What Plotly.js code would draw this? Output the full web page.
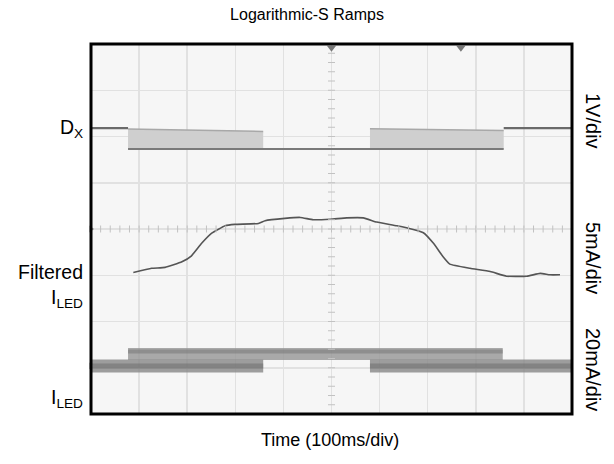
<!DOCTYPE html>
<html>
<head>
<meta charset="utf-8">
<script src="https://cdn.plot.ly/plotly-3.0.1.min.js"></script>
<style>html,body{margin:0;padding:0;background:#fff;}#chart{width:614px;height:464px;}</style>
</head>
<body>
<div id="chart"></div>
<script>
// Time axis: 0..1000 ms (100 ms/div). Vertical axis in screen divisions (0..8, bottom to top).
const timeRangeMs = [0, 1000];
const divRange = [0, 8];

// Dx (PWM dimming input, 1V/div)
const dxHighDiv = 6.18;
const dxLowDiv = 5.73;
const dxBand1Ms = [77, 358];      // first PWM burst (start, end)
const dxBand1Top = [6.16, 6.11];
const dxBand2Ms = [580, 858];     // second PWM burst
const dxBand2Top = [6.17, 6.13];

// Filtered ILED (5mA/div)
const filtT = [88, 126, 154, 189, 209, 230, 251, 279, 299, 348, 362, 403, 435, 462, 497, 532, 566, 594, 636, 670, 691, 712, 732, 746, 788, 830, 864, 906, 934, 954, 975];
const filtY = [3.06, 3.15, 3.17, 3.29, 3.42, 3.69, 3.91, 4.07, 4.10, 4.12, 4.18, 4.23, 4.25, 4.20, 4.21, 4.24, 4.24, 4.15, 4.07, 3.99, 3.92, 3.69, 3.40, 3.24, 3.15, 3.08, 2.98, 2.98, 3.04, 3.01, 3.01];

// ILED (20mA/div): two current levels
const iledLowDiv = 1.04;
const iledHighDiv = 1.30;
const iledLowSegMs = [[0, 358], [580, 1000]];
const iledHighSegMs = [[77, 856]];

// Marker positions (trigger / cursor)
const topMarkersMs = [500, 769];

const gray = '#6a6a6a';
const traces = [];

function bandTrace(xs, top) {
  return {x: [xs[0], xs[1], xs[1], xs[0], xs[0]], y: [top[0], top[1], dxLowDiv, dxLowDiv, top[0]],
    type: 'scatter', mode: 'lines', fill: 'toself', fillcolor: '#cfcfcf', line: {width: 0}, hoverinfo: 'skip'};
}
traces.push(bandTrace(dxBand1Ms, dxBand1Top));
traces.push(bandTrace(dxBand2Ms, dxBand2Top));
// band top edges
traces.push({x: [dxBand1Ms[0], dxBand1Ms[1], null, dxBand2Ms[0], dxBand2Ms[1]],
  y: [dxBand1Top[0], dxBand1Top[1], null, dxBand2Top[0], dxBand2Top[1]],
  type: 'scatter', mode: 'lines', line: {color: '#a8a8a8', width: 1.5}, hoverinfo: 'skip'});
// Dx high level
traces.push({x: [timeRangeMs[0], dxBand1Ms[0], null, dxBand2Ms[1], timeRangeMs[1]],
  y: [dxHighDiv, dxHighDiv, null, dxHighDiv, dxHighDiv],
  type: 'scatter', mode: 'lines', line: {color: gray, width: 2.2}, hoverinfo: 'skip'});
// Dx low level
traces.push({x: [dxBand1Ms[0], dxBand2Ms[1]], y: [dxLowDiv, dxLowDiv],
  type: 'scatter', mode: 'lines', line: {color: '#7a7a7a', width: 2}, hoverinfo: 'skip'});

// ILED bands
function segTrace(segs, level, color, width) {
  const x = [], y = [];
  segs.forEach((s, i) => { if (i) { x.push(null); y.push(null); } x.push(s[0], s[1]); y.push(level, level); });
  return {x, y, type: 'scatter', mode: 'lines', line: {color, width}, hoverinfo: 'skip'};
}
traces.push(segTrace(iledHighSegMs, iledHighDiv, 'rgba(150,150,150,0.8)', 12));
traces.push(segTrace(iledLowSegMs, iledLowDiv, 'rgba(135,135,135,0.8)', 13));
traces.push(segTrace(iledHighSegMs, iledHighDiv + 0.05, 'rgba(115,115,115,0.5)', 4));
traces.push(segTrace(iledLowSegMs, iledLowDiv, 'rgba(105,105,105,0.5)', 5));

// Filtered ILED
traces.push({x: filtT, y: filtY, type: 'scatter', mode: 'lines', line: {color: '#555', width: 1.6, shape: 'spline', smoothing: 0.4}, hoverinfo: 'skip'});

// Center graticule minor ticks
const hx = [], hy = [], vx = [], vy = [];
for (let t = 0; t <= 1000; t += 20) { hx.push(t); hy.push(4); }
for (let d = 0; d <= 8; d += 0.2) { vx.push(500); vy.push(d); }
traces.push({x: hx, y: hy, type: 'scatter', mode: 'markers', marker: {symbol: 'line-ns', size: 5, line: {color: '#c2c2c2', width: 1}}, hoverinfo: 'skip'});
traces.push({x: vx, y: vy, type: 'scatter', mode: 'markers', marker: {symbol: 'line-ew', size: 5, line: {color: '#c2c2c2', width: 1}}, hoverinfo: 'skip'});

// Top markers and left reference markers
traces.push({x: topMarkersMs, y: topMarkersMs.map(() => 7.92), type: 'scatter', mode: 'markers',
  marker: {symbol: 'triangle-down', size: 8, color: '#777'}, cliponaxis: false, hoverinfo: 'skip'});
traces.push({x: [0, 0], y: [4, iledLowDiv], type: 'scatter', mode: 'markers',
  marker: {symbol: 'triangle-right', size: 6, color: '#888'}, cliponaxis: false, hoverinfo: 'skip'});

const FAM = 'Liberation Sans, Arial, sans-serif';
const fTitle = {family: FAM, size: 16, color: '#000'};
const fX = {family: FAM, size: 18, color: '#000'};
const fL = {family: FAM, size: 19.5, color: '#000'};
const fR = {family: FAM, size: 20, color: '#000'};
const W = 481, H = 370;
function py(p) { return (414 - p) / H; }
function px(p) { return (p - 91) / W; }

const layout = {
  width: 614, height: 464,
  margin: {l: 91, r: 42, t: 44, b: 50},
  paper_bgcolor: '#fff', plot_bgcolor: '#f6f6f6',
  showlegend: false,
  font: fTitle,
  title: {text: 'Logarithmic-S Ramps', font: fTitle, x: 0.5, xref: 'container', xanchor: 'center', y: 1 - 14 / 464, yanchor: 'middle'},
  xaxis: {range: timeRangeMs, dtick: 100, showticklabels: false, ticks: '', zeroline: false,
    showgrid: true, gridcolor: '#e1e1e1', gridwidth: 1.5, fixedrange: true},
  yaxis: {range: divRange, dtick: 1, showticklabels: false, ticks: '', zeroline: false,
    showgrid: true, gridcolor: '#e1e1e1', gridwidth: 1.5, fixedrange: true},
  shapes: [{type: 'rect', xref: 'paper', yref: 'paper', x0: 0, x1: 1, y0: 0, y1: 1, line: {color: '#000', width: 3}}],
  annotations: [
    {text: 'Time (100ms/div)', xref: 'paper', yref: 'paper', x: px(330), y: py(440), xanchor: 'center', yanchor: 'middle', showarrow: false, font: fX},
    {text: 'D<sub>X</sub>', xref: 'paper', yref: 'paper', x: px(85), y: py(128), xanchor: 'right', yanchor: 'middle', showarrow: false, font: fL},
    {text: 'Filtered', xref: 'paper', yref: 'paper', x: px(85), y: py(272), xanchor: 'right', yanchor: 'middle', showarrow: false, font: fL},
    {text: 'I<sub>LED</sub>', xref: 'paper', yref: 'paper', x: px(85), y: py(298), xanchor: 'right', yanchor: 'middle', showarrow: false, font: fL},
    {text: 'I<sub>LED</sub>', xref: 'paper', yref: 'paper', x: px(85), y: py(398), xanchor: 'right', yanchor: 'middle', showarrow: false, font: fL},
    {text: '1V/div', xref: 'paper', yref: 'paper', x: px(593), y: py(121), xanchor: 'center', yanchor: 'middle', textangle: 90, showarrow: false, font: fR},
    {text: '5mA/div', xref: 'paper', yref: 'paper', x: px(593), y: py(258), xanchor: 'center', yanchor: 'middle', textangle: 90, showarrow: false, font: fR},
    {text: '20mA/div', xref: 'paper', yref: 'paper', x: px(593), y: py(369), xanchor: 'center', yanchor: 'middle', textangle: 90, showarrow: false, font: fR}
  ]
};

Plotly.newPlot('chart', traces, layout, {staticPlot: true, displayModeBar: false});
</script>
</body>
</html>
